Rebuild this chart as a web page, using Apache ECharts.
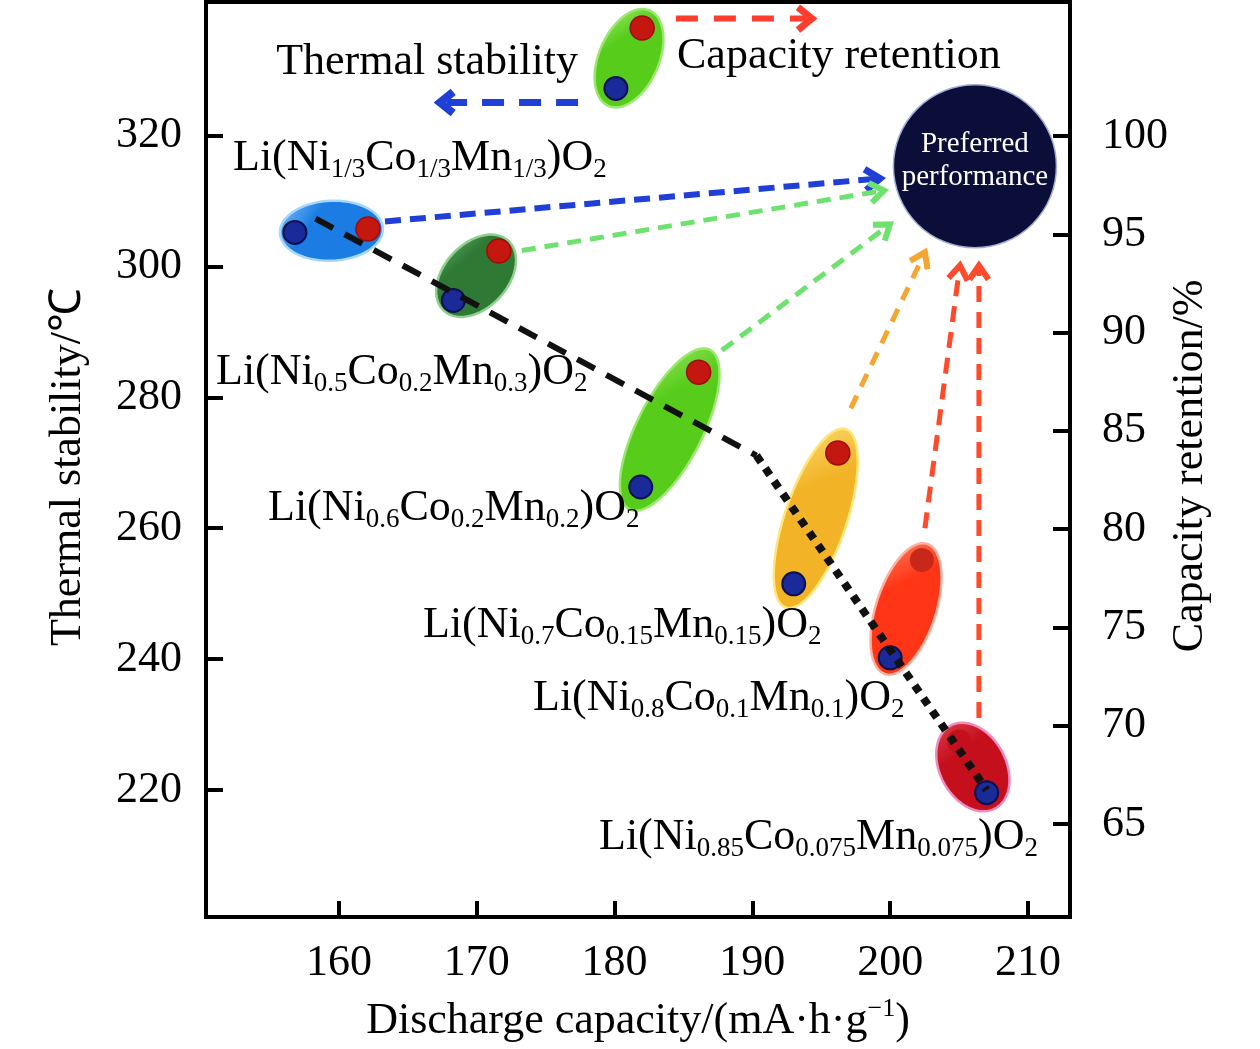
<!DOCTYPE html>
<html>
<head>
<meta charset="utf-8">
<script src="https://cdn.jsdelivr.net/npm/echarts@6/dist/echarts.min.js"></script>
<style>html,body{margin:0;padding:0;background:#fff}#c{width:1260px;height:1049px}</style>
</head>
<body>
<div id="c"></div>
<script>
// ---------------- data ----------------
const materialLabels = [
  '{m|Li(Ni}{s|1/3}{m|Co}{s|1/3}{m|Mn}{s|1/3}{m|)O}{s|2}',
  '{m|Li(Ni}{s|0.5}{m|Co}{s|0.2}{m|Mn}{s|0.3}{m|)O}{s|2}',
  '{m|Li(Ni}{s|0.6}{m|Co}{s|0.2}{m|Mn}{s|0.2}{m|)O}{s|2}',
  '{m|Li(Ni}{s|0.7}{m|Co}{s|0.15}{m|Mn}{s|0.15}{m|)O}{s|2}',
  '{m|Li(Ni}{s|0.8}{m|Co}{s|0.1}{m|Mn}{s|0.1}{m|)O}{s|2}',
  '{m|Li(Ni}{s|0.85}{m|Co}{s|0.075}{m|Mn}{s|0.075}{m|)O}{s|2}'
];
// thermal stability points (blue): discharge capacity vs thermal stability
const capacity = [156.8, 168.3, 181.9, 193.0, 200.0, 207.0];
const thermalStability = [305.2, 294.8, 266.3, 251.5, 240.2, 219.6];
// capacity retention points (red): plotted capacity vs retention (right axis)
const retentionCapacity = [162.1, 171.6, 186.1, 196.2, 202.3, 205.0];
const capacityRetention = [95.27, 94.15, 87.99, 83.88, 78.43, 69.2];
// trend line (dashed then dotted)
const trendX = [158.3, 190.3, 207.0];
const trendY = [307.3, 271.1, 220.0];
// legend key (top)
const keyCapacity = [180.1, 182.0];
const keyThermal = [327.2];
const keyRetention = [105.5];
// preferred performance target
const preferredPoint = [206.15, 315.3];
// arrows [capacity, thermal-stability-axis value]
const arrowFrom = [[163.34, 306.87], [173.27, 302.44], [187.79, 287.18], [197.14, 278.32], [202.52, 260.0], [206.44, 231.0], [184.45, 337.86], [177.35, 325.04]];
const arrowTo   = [[199.26, 313.44], [199.55, 311.60], [199.98, 306.41], [202.52, 302.14], [205.06, 300.15], [206.44, 300.15], [194.32, 337.86], [167.33, 325.04]];
// ticks
const xTicks = [160, 170, 180, 190, 200, 210];
const leftTicks = [220, 240, 260, 280, 300, 320];
const rightTicks = [65, 70, 75, 80, 85, 90, 95, 100];

// ---------------- styles ----------------
const X_MIN = 150.35, X_MAX = 213.05;
const YL_MIN = 200.6, YL_MAX = 340.4;
const YR_MIN = 60.27, YR_MAX = 106.82;
const FONT = 'Liberation Serif';
const ellipseStyles = [
  {base:'#1b7de3', light:'#86c6ff', edge:'#a6d8ff', pad:15, minor:30},
  {base:'#2e7a34', light:'#72b872', edge:'#8fd08f', pad:14, minor:32},
  {base:'#57cc1b', light:'#b0f07a', edge:'#9be870', pad:25, minor:33},
  {base:'#f2b326', light:'#ffe07a', edge:'#ffe67a', pad:25, minor:31},
  {base:'#ff3516', light:'#ff8a66', edge:'#ffb0a0', pad:17, minor:30},
  {base:'#c50f1d', light:'#e0404e', edge:'#f08cc0', pad:18, minor:33},
  {base:'#57cc1b', light:'#b0f07a', edge:'#9be870', pad:19, minor:30}
];
// red-dot colours (the last material's dot merges with its dark-red ellipse)
const redDotStyles = [
  {color:'#c3170f', borderColor:'#a00c08', borderWidth:1.5},
  {color:'#c3170f', borderColor:'#a00c08', borderWidth:1.5},
  {color:'#c3170f', borderColor:'#a00c08', borderWidth:1.5},
  {color:'#c3170f', borderColor:'#a00c08', borderWidth:1.5},
  {color:'#c8281a', borderColor:'#c8281a', borderWidth:0},
  {color:'#c50f1d', borderColor:'#c50f1d', borderWidth:0},
  {color:'#c3170f', borderColor:'#a00c08', borderWidth:1.5}
];
const arrowStyles = [
  {color:'#1f3fd6', width:6, dash:[16,9], head:18, angle:0.62},
  {color:'#6ee26e', width:5, dash:[14,9], head:17, angle:0.62},
  {color:'#6ee26e', width:5, dash:[14,9], head:17, angle:0.62},
  {color:'#f7a531', width:5, dash:[14,10], head:17, angle:0.6},
  {color:'#ff4b2b', width:5, dash:[16,10], head:17, angle:0.6},
  {color:'#ff4b2b', width:5, dash:[16,10], head:17, angle:0.6},
  {color:'#ff3d2e', width:6, dash:[22,16], head:18, angle:0.68},
  {color:'#1f3fd6', width:7, dash:[22,15], head:17, angle:0.68}
];
const labelPos = [[233,158],[216,372],[268,508],[423,625],[533,698],[599,837]];

function rightToLeft(v) { return YL_MIN + (v - YR_MIN) * (YL_MAX - YL_MIN) / (YR_MAX - YR_MIN); }

// ellipse pairs (blue point, red point) incl. the key
const ellBlue = capacity.map((c, i) => [c, thermalStability[i]]).concat([[keyCapacity[0], keyThermal[0]]]);
const ellRed = retentionCapacity.map((c, i) => [c, capacityRetention[i]]).concat([[keyCapacity[1], keyRetention[0]]]);

const rich = {
  m: {fontFamily: FONT, fontSize: 44, lineHeight: 50, verticalAlign: 'middle', fill: '#000', color: '#000'},
  s: {fontFamily: FONT, fontSize: 27, lineHeight: 21, verticalAlign: 'bottom', fill: '#000', color: '#000'},
  p: {fontFamily: FONT, fontSize: 26, lineHeight: 28, verticalAlign: 'top', fill: '#000', color: '#000'}
};

const chart = echarts.init(document.getElementById('c'), null, {renderer: 'canvas'});

const axisLine = {show: true, lineStyle: {color: '#000', width: 4}};
const labelStyle = {fontFamily: FONT, fontSize: 44, color: '#000'};

const graphics = materialLabels.map((t, i) => ({
  type: 'text', z: 50,
  style: {text: t, x: labelPos[i][0], y: labelPos[i][1], textAlign: 'left', align: 'left',
    textVerticalAlign: 'middle', verticalAlign: 'middle', rich: rich, fill: '#000'}
}));
graphics.push(
  {type: 'text', z: 50, style: {text: 'Thermal stability', x: 578, y: 62, textAlign: 'right', align: 'right', textVerticalAlign: 'middle', verticalAlign: 'middle', font: '44px "' + FONT + '"', fill: '#000'}},
  {type: 'text', z: 50, style: {text: 'Capacity retention', x: 677, y: 56, textAlign: 'left', align: 'left', textVerticalAlign: 'middle', verticalAlign: 'middle', font: '44px "' + FONT + '"', fill: '#000'}},
  {type: 'text', z: 50, x: 68, y: 467, rotation: Math.PI / 2, style: {text: 'Thermal stability/℃', x: 0, y: 0, textAlign: 'center', align: 'center', textVerticalAlign: 'middle', verticalAlign: 'middle', font: '44px "' + FONT + '"', fill: '#000'}},
  {type: 'text', z: 50, x: 1190, y: 466, rotation: Math.PI / 2, style: {text: 'Capacity retention/%', x: 0, y: 0, textAlign: 'center', align: 'center', textVerticalAlign: 'middle', verticalAlign: 'middle', font: '44px "' + FONT + '"', fill: '#000'}},
  {type: 'text', z: 50, style: {text: '{m|Discharge capacity/(mA·h·g}{p|−1}{m|)}', x: 638, y: 1021, textAlign: 'center', align: 'center', textVerticalAlign: 'middle', verticalAlign: 'middle', rich: rich, fill: '#000'}}
);

function ellipseItem(params, api) {
  const i = params.dataIndex;
  const st = ellipseStyles[i];
  const pb = api.coord(ellBlue[i]);
  const pr = api.coord([ellRed[i][0], rightToLeft(ellRed[i][1])]);
  const cx = (pb[0] + pr[0]) / 2, cy = (pb[1] + pr[1]) / 2;
  const dx = pr[0] - pb[0], dy = pr[1] - pb[1];
  const d = Math.hypot(dx, dy), ang = Math.atan2(dy, dx);
  const a = d / 2 + st.pad, b = st.minor;
  const ca = Math.cos(ang), sa = Math.sin(ang);
  const pts = [];
  for (let k = 0; k < 96; k++) {
    const t = 2 * Math.PI * k / 96;
    const ex = a * Math.cos(t), ey = b * Math.sin(t);
    pts.push([cx + ex * ca - ey * sa, cy + ex * sa + ey * ca]);
  }
  return {
    type: 'polygon', shape: {points: pts},
    style: {
      fill: {type: 'linear', x: 0, y: 0, x2: 0.9, y2: 1, colorStops: [
        {offset: 0, color: st.light}, {offset: 0.35, color: st.base}, {offset: 1, color: st.base}]},
      stroke: st.edge, lineWidth: 2.5
    }
  };
}

function arrowItem(params, api) {
  const i = params.dataIndex;
  const s = arrowStyles[i];
  const p0 = api.coord(arrowFrom[i]);
  const p1 = api.coord(arrowTo[i]);
  const dx = p1[0] - p0[0], dy = p1[1] - p0[1];
  const L = Math.hypot(dx, dy), ux = dx / L, uy = dy / L;
  const rot = (vx, vy, a) => [vx * Math.cos(a) - vy * Math.sin(a), vx * Math.sin(a) + vy * Math.cos(a)];
  const a1 = rot(-ux, -uy, s.angle), a2 = rot(-ux, -uy, -s.angle);
  const end = [p1[0] - ux * s.width, p1[1] - uy * s.width];
  return {
    type: 'group', children: [
      {type: 'line', shape: {x1: p0[0], y1: p0[1], x2: end[0], y2: end[1]},
        style: {stroke: s.color, lineWidth: s.width, lineDash: s.dash, fill: 'none'}},
      {type: 'polyline', shape: {points: [[p1[0] + a1[0] * s.head, p1[1] + a1[1] * s.head], p1, [p1[0] + a2[0] * s.head, p1[1] + a2[1] * s.head]]},
        style: {stroke: s.color, lineWidth: s.width + 1, fill: 'none', lineJoin: 'miter'}}
    ]
  };
}

const redData = retentionCapacity.map((c, i) => [c, capacityRetention[i]]).concat([[keyCapacity[1], keyRetention[0]]]);

const option = {
  backgroundColor: '#fff',
  animation: false,
  grid: {left: 206, right: 190, top: 2, bottom: 132, show: true, borderColor: '#000', borderWidth: 4, backgroundColor: 'transparent'},
  xAxis: {
    type: 'value', min: X_MIN, max: X_MAX,
    axisLine: axisLine,
    axisTick: {show: true, inside: true, length: 16, customValues: xTicks, lineStyle: {color: '#000', width: 4}},
    axisLabel: Object.assign({margin: 24, customValues: xTicks}, labelStyle),
    splitLine: {show: false}
  },
  yAxis: [
    {
      type: 'value', min: YL_MIN, max: YL_MAX, position: 'left',
      axisLine: axisLine,
      axisTick: {show: true, inside: true, length: 17, customValues: leftTicks, lineStyle: {color: '#000', width: 4}},
      axisLabel: Object.assign({margin: 24, customValues: leftTicks}, labelStyle),
      splitLine: {show: false}
    },
    {
      type: 'value', min: YR_MIN, max: YR_MAX, position: 'right',
      axisLine: axisLine,
      axisTick: {show: true, inside: true, length: 17, customValues: rightTicks, lineStyle: {color: '#000', width: 4}},
      axisLabel: Object.assign({margin: 32, customValues: rightTicks}, labelStyle),
      splitLine: {show: false}
    }
  ],
  series: [
    {
      name: 'ellipses', type: 'custom', z: 1, xAxisIndex: 0, yAxisIndex: 0, clip: false,
      renderItem: ellipseItem, encode: {x: 0, y: 1},
      data: ellBlue, silent: true
    },
    {
      name: 'Thermal stability', type: 'scatter', z: 3, yAxisIndex: 0, symbol: 'circle', symbolSize: 23,
      itemStyle: {color: '#1a2a98', borderColor: '#0a1050', borderWidth: 2, opacity: 1},
      data: capacity.map((c, i) => [c, thermalStability[i]]).concat([[keyCapacity[0], keyThermal[0]]])
    },
    {
      name: 'Capacity retention', type: 'scatter', z: 3, yAxisIndex: 1, symbol: 'circle', symbolSize: 24,
      data: redData.map((v, i) => ({value: v, itemStyle: Object.assign({opacity: 1}, redDotStyles[i])}))
    },
    {
      name: 'trend-dashed', type: 'line', z: 4, yAxisIndex: 0, symbol: 'none', silent: true,
      lineStyle: {color: '#111', width: 6, type: [20, 13], cap: 'butt'},
      data: [[trendX[0], trendY[0]], [trendX[1], trendY[1]]]
    },
    {
      name: 'trend-dotted', type: 'line', z: 4, yAxisIndex: 0, symbol: 'none', silent: true,
      lineStyle: {color: '#111', width: 8, type: [8, 7.5], cap: 'butt'},
      data: [[trendX[1], trendY[1]], [trendX[2], trendY[2]]]
    },
    {
      name: 'arrows', type: 'custom', z: 5, yAxisIndex: 0, clip: false, silent: true,
      renderItem: arrowItem, encode: {x: 0, y: 1},
      data: arrowFrom
    },
    {
      name: 'Preferred performance', type: 'scatter', z: 6, yAxisIndex: 0, symbol: 'circle', symbolSize: 163,
      itemStyle: {color: '#0b0e38', borderColor: '#a3acd8', borderWidth: 1.5, opacity: 1},
      label: {show: true, position: 'inside', formatter: 'Preferred\nperformance', color: '#fff',
        fontFamily: FONT, fontSize: 29, lineHeight: 33, offset: [0, -5]},
      data: [preferredPoint]
    }
  ],
  graphic: graphics
};
chart.setOption(option);
</script>
</body>
</html>
